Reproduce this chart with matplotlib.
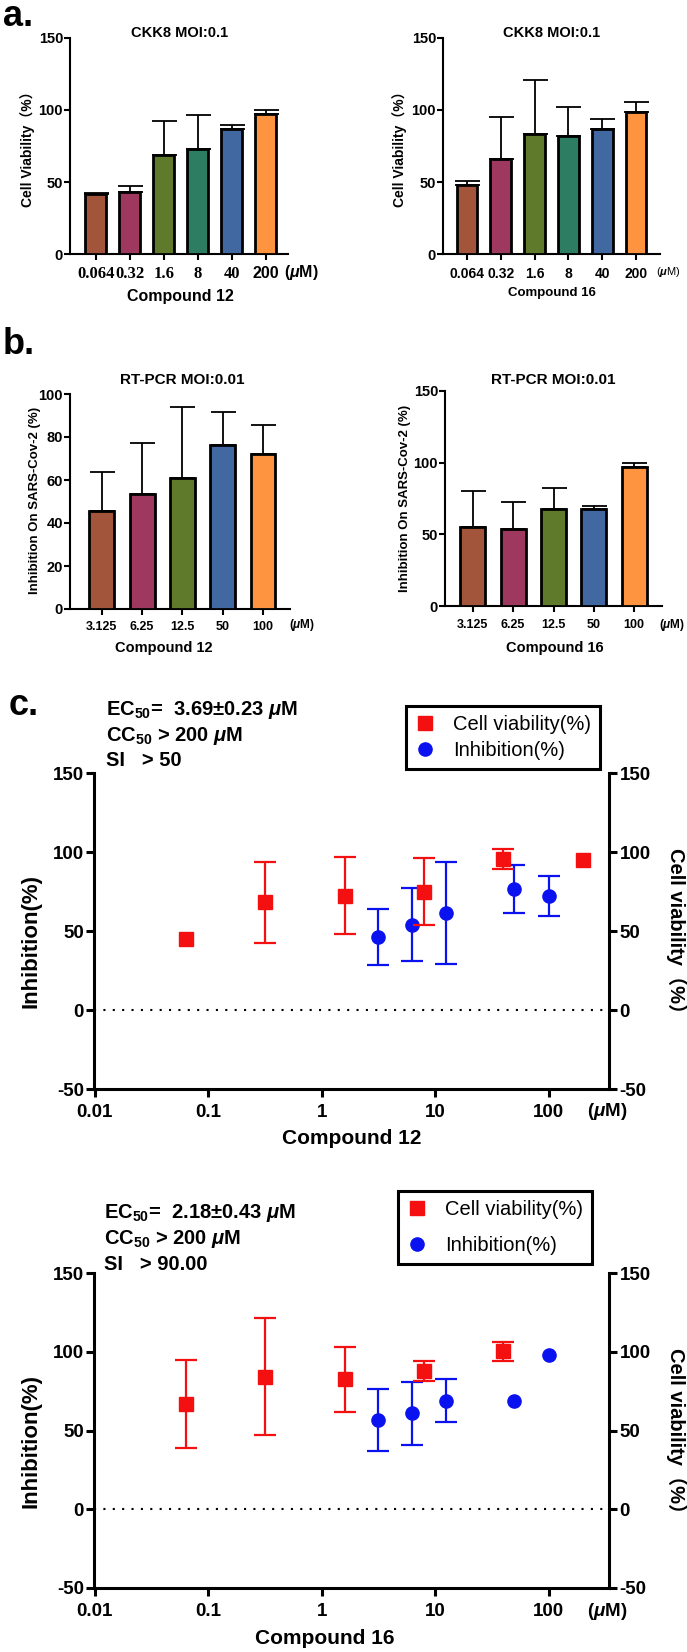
import numpy as np
import matplotlib
matplotlib.use('Agg')
import matplotlib.pyplot as plt
from matplotlib.ticker import NullLocator

W, H = 687, 1652

# ---- panel a: CKK8 cell viability (MOI 0.1)
conc_a = ['0.064', '0.32', '1.6', '8', '40', '200']
via12_mean = [41.5, 43.4, 68.9, 72.6, 86.9, 97.1]
via12_err = [1.0, 4.1, 23.8, 23.6, 2.4, 3.1]
via16_mean = [48.0, 65.8, 83.2, 81.6, 86.7, 98.5]
via16_err = [2.8, 29.0, 37.4, 20.4, 7.0, 7.2]
colors_a = ['#A3553C', '#9E385E', '#5E7A2A', '#2C7D62', '#4168A0', '#FF9440']

# ---- panel b: RT-PCR inhibition (MOI 0.01)
conc_b = ['3.125', '6.25', '12.5', '50', '100']
inh12_mean = [45.8, 53.6, 60.8, 76.3, 72.1]
inh12_err = [18.1, 23.6, 33.2, 15.5, 13.3]
inh16_mean = [55.3, 53.9, 67.8, 67.8, 97.1]
inh16_err = [25.0, 19.0, 14.4, 2.1, 2.7]
colors_b = ['#A3553C', '#9E385E', '#5E7A2A', '#4168A0', '#FF9440']

# ---- panel c: dose response (0 = no visible error bar)
c12_via_x = [0.064, 0.32, 1.6, 8, 40, 200]
c12_via_y = [44.8, 68.1, 72.3, 75.0, 95.4, 95.0]
c12_via_e = [0, 25.4, 24.3, 21.2, 6.2, 0]
c12_inh_x = [3.125, 6.25, 12.5, 50, 100]
c12_inh_y = [46.1, 54.1, 61.5, 76.5, 72.3]
c12_inh_e = [17.8, 23.2, 32.4, 15.3, 12.8]

c16_via_x = [0.064, 0.32, 1.6, 8, 40]
c16_via_y = [66.9, 84.2, 82.5, 87.6, 100.2]
c16_via_e = [28.1, 37.0, 20.5, 6.3, 6.2]
c16_inh_x = [3.125, 6.25, 12.5, 50, 100]
c16_inh_y = [56.8, 61.0, 69.0, 68.7, 97.8]
c16_inh_e = [19.5, 20.0, 13.8, 0, 0]

SANS = ['Liberation Sans', 'Noto Sans CJK SC', 'DejaVu Sans']
NARROW = ['Liberation Sans Narrow', 'Liberation Sans', 'Noto Sans CJK SC', 'DejaVu Sans']
SERIF = ['Liberation Serif', 'DejaVu Serif']

plt.rcParams['font.family'] = SANS
plt.rcParams['font.weight'] = 'bold'
plt.rcParams['axes.unicode_minus'] = False
plt.rcParams['mathtext.fontset'] = 'custom'
plt.rcParams['mathtext.rm'] = 'Liberation Sans:bold'
plt.rcParams['mathtext.bf'] = 'Liberation Sans:bold'
plt.rcParams['mathtext.it'] = 'Liberation Sans:italic:bold'

fig = plt.figure(figsize=(W / 100, H / 100), dpi=100)


def add_ax(l, t, r, b):
    return fig.add_axes([l / W, 1 - b / H, (r - l) / W, (b - t) / H])


def ftext(x, y, s, **kw):
    kw.setdefault('ha', 'center')
    kw.setdefault('va', 'center')
    fig.text(x / W, 1 - y / H, s, **kw)


def bar_panel(box, labels, means, errs, colors, ymax, ystep, xlim, tick_size):
    ax = add_ax(*box)
    x = np.arange(len(means))
    ax.bar(x, means, width=0.62, color=colors, edgecolor='black', linewidth=2.0, zorder=3)
    ax.errorbar(x, means, yerr=[np.zeros(len(errs)), errs], fmt='none', ecolor='black',
                elinewidth=1.3, capsize=9, capthick=1.3, zorder=2)
    ax.set_xlim(*xlim)
    ax.set_ylim(0, ymax)
    ax.set_yticks(np.arange(0, ymax + 1, ystep))
    ax.set_xticks(x, labels, fontsize=tick_size, fontweight='bold')
    ax.tick_params(axis='y', labelsize=10.5, width=1.5, length=4, pad=1)
    ax.tick_params(axis='x', width=1.5, length=4, pad=5)
    for s in ['top', 'right']:
        ax.spines[s].set_visible(False)
    for s in ['left', 'bottom']:
        ax.spines[s].set_linewidth(1.5)
    return ax


# panel a
ax = bar_panel((70, 38, 288, 254), conc_a, via12_mean, via12_err, colors_a, 150, 50, (-0.76, 5.65), 12)
for lbl in ax.get_xticklabels()[:5]:
    lbl.set_fontfamily(SERIF)
ax.get_xticklabels()[5].set_fontsize(11.5)
ax = bar_panel((443, 38, 660, 254), conc_a, via16_mean, via16_err, colors_a, 150, 50, (-0.71, 5.71), 10)

ftext(3, 17, 'a.', ha='left', fontsize=26)
ftext(180, 33, 'CKK8 MOI:0.1', fontsize=10.5)
ftext(552, 33, 'CKK8 MOI:0.1', fontsize=10.5)
ftext(28, 146, 'Cell Viability（%）', rotation=90, fontsize=10)
ftext(400, 146, 'Cell Viability（%）', rotation=90, fontsize=10)
ftext(301, 272, r'($\mu$M)', fontsize=11.5)
ftext(668, 272, r'($\mu$M)', fontsize=8, fontweight='normal')
ftext(180, 297, 'Compound 12', fontsize=11.5)
ftext(552, 293, 'Compound 16', fontsize=9.5)

# panel b
bar_panel((70, 394, 290, 609), conc_b, inh12_mean, inh12_err, colors_b, 100, 20, (-0.79, 4.67), 9)
bar_panel((445, 391, 662, 606), conc_b, inh16_mean, inh16_err, colors_b, 150, 50, (-0.69, 4.69), 9)

ftext(3, 345, 'b.', ha='left', fontsize=26)
ftext(182, 380, 'RT-PCR MOI:0.01', fontsize=11)
ftext(553, 380, 'RT-PCR MOI:0.01', fontsize=11)
ftext(35, 500, 'Inhibition On SARS-Cov-2 (%)', rotation=90, fontsize=9.5)
ftext(405, 498, 'Inhibition On SARS-Cov-2 (%)', rotation=90, fontsize=9.5)
ftext(302, 625, r'($\mu$M)', fontsize=8.5)
ftext(672, 625, r'($\mu$M)', fontsize=8.5)
ftext(164, 648, 'Compound 12', fontsize=10.5)
ftext(555, 648, 'Compound 16', fontsize=10.5)


def no_zero(e):
    e = np.asarray(e, dtype=float)
    return np.where(e > 0, e, np.nan)


# panel c
def dose_panel(box, vx, vy, ve, ix, iy, ie, info, info_x, info_y, leg_xy, leg_gap, xlabel, xlabel_xy):
    ax = add_ax(*box)
    ax2 = ax.twinx()
    for a in (ax, ax2):
        a.set_xscale('log')
        a.set_xlim(0.01, 340)
        a.set_ylim(-50, 150)
        a.set_yticks([-50, 0, 50, 100, 150])
        a.xaxis.set_minor_locator(NullLocator())
        a.spines['top'].set_visible(False)
        for s in a.spines.values():
            s.set_linewidth(2.2)
    ax2.spines['left'].set_visible(False)
    ax2.spines['bottom'].set_visible(False)
    ax.spines['right'].set_visible(False)
    ax.set_xticks([0.01, 0.1, 1, 10, 100], ['0.01', '0.1', '1', '10', '100'])
    for a in (ax, ax2):
        a.tick_params(width=2.2, length=5.5, labelsize=13.5, pad=2)
        for lbl in a.get_xticklabels() + a.get_yticklabels():
            lbl.set_fontfamily(NARROW)
    ax.tick_params(axis='x', pad=5)

    ax.axhline(0, color='black', lw=1.5, ls=(0, (1, 3.5)), zorder=1)
    inh = ax.errorbar(ix, iy, yerr=no_zero(ie), fmt='o', color='#0A12F0', ms=9.5, elinewidth=1.6,
                      capsize=8, capthick=1.6, zorder=3)
    via = ax2.errorbar(vx, vy, yerr=no_zero(ve), fmt='s', color='#F41010', ms=9.5, elinewidth=1.6,
                       capsize=8, capthick=1.6, zorder=3)
    leg = ax2.legend([via[0], inh[0]], ['Cell viability(%)', 'Inhibition(%)'],
                     loc='upper left', bbox_to_anchor=(leg_xy[0] / W, 1 - leg_xy[1] / H),
                     bbox_transform=fig.transFigure, borderaxespad=0, fancybox=False,
                     edgecolor='black', framealpha=1, handlelength=1.0, handletextpad=0.9,
                     borderpad=0.45, labelspacing=leg_gap, markerscale=1.0,
                     prop={'family': NARROW, 'weight': 'normal', 'size': 14.5})
    leg.get_frame().set_linewidth(2.2)

    for k, line in enumerate(info):
        ftext(info_x, info_y + 25.5 * k, line, ha='left', fontsize=14.5, family=NARROW)
    l, t, r, b = box
    ftext(31, (t + b) / 2 + 10, 'Inhibition(%)', rotation=90, fontsize=16, family=NARROW)
    ftext(677, (t + b) / 2 + 5, 'Cell viability（%）', rotation=270, fontsize=14.5, family=NARROW)
    ftext(607, b + 23, r'($\mu$M)', fontsize=13.5, family=NARROW)
    ftext(xlabel_xy[0], xlabel_xy[1], xlabel, fontsize=15, family=NARROW)


dose_panel((94.5, 773, 609, 1089), c12_via_x, c12_via_y, c12_via_e, c12_inh_x, c12_inh_y, c12_inh_e,
           [r'EC$_{50}$=  3.69±0.23 $\mu$M', r'CC$_{50}$ > 200 $\mu$M', 'SI   > 50'],
           106, 710, (406, 706), 0.35, 'Compound 12', (352, 1138))
dose_panel((94.5, 1273, 609, 1588), c16_via_x, c16_via_y, c16_via_e, c16_inh_x, c16_inh_y, c16_inh_e,
           [r'EC$_{50}$=  2.18±0.43 $\mu$M', r'CC$_{50}$ > 200 $\mu$M', 'SI   > 90.00'],
           104, 1213, (398, 1191), 0.85, 'Compound 16', (325, 1638))
ftext(9, 705, 'c.', ha='left', fontsize=26)

fig.savefig('out.png', dpi=100)
